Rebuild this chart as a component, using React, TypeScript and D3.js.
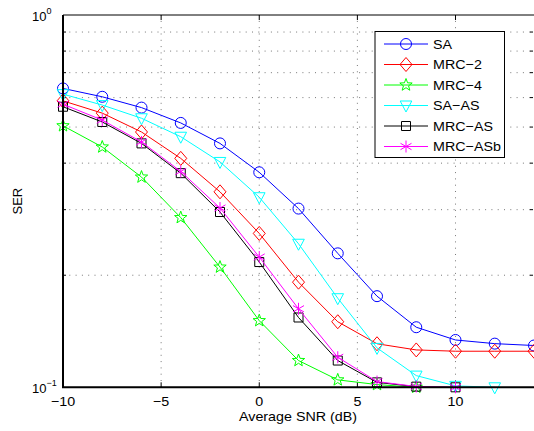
import React, { useEffect, useRef } from 'react';
import * as d3 from 'd3';

const snr = [-10, -8, -6, -4, -2, 0, 2, 4, 6, 8, 10, 12, 14];

const serSA = [0.635, 0.603, 0.564, 0.513, 0.452, 0.378, 0.302, 0.229, 0.1757, 0.145, 0.134, 0.131, 0.1295];
const serMRC2 = [0.588, 0.545, 0.485, 0.412, 0.335, 0.259, 0.1916, 0.15, 0.1309, 0.126, 0.125, 0.125, 0.125];
const serMRC4 = [0.504, 0.442, 0.367, 0.2856, 0.2103, 0.151, 0.118, 0.1047, 0.1017, 0.1];
const serSAAS = [0.613, 0.573, 0.528, 0.471, 0.403, 0.324, 0.243, 0.1735, 0.1276, 0.1075, 0.1009, 0.1];
const serMRCAS = [0.567, 0.516, 0.452, 0.376, 0.2957, 0.217, 0.154, 0.118, 0.1031, 0.1004, 0.1];
const serMRCASb = [0.576, 0.522, 0.456, 0.38, 0.303, 0.2238, 0.1625, 0.1204, 0.1036, 0.1005, 0.1];

const seriesNames = ['SA', 'MRC\u22122', 'MRC\u22124', 'SA\u2212AS', 'MRC\u2212AS', 'MRC\u2212ASb'];
const seriesColors = ['#0000ff', '#ff0000', '#00ff00', '#00ffff', '#000000', '#ff00ff'];
const seriesMarkers = ['circle', 'diamond', 'star', 'triangle', 'square', 'asterisk'];
const seriesValues = [serSA, serMRC2, serMRC4, serSAAS, serMRCAS, serMRCASb];

const xTicks = [-10, -5, 0, 5, 10];
const yGrid = [0.2, 0.3, 0.4, 0.5, 0.6, 0.7, 0.8, 0.9];

function markerPath(kind: string): string {
  if (kind === 'circle') {
    return 'M5.5,0A5.5,5.5 0 1,1 -5.5,0A5.5,5.5 0 1,1 5.5,0Z';
  }
  if (kind === 'diamond') return 'M0,-7L6,0L0,7L-6,0Z';
  if (kind === 'square') return 'M-4.5,-4.5L4.5,-4.5L4.5,4.5L-4.5,4.5Z';
  if (kind === 'triangle') return 'M-5.8,-4.5L5.8,-4.5L0,6.5Z';
  if (kind === 'asterisk') return 'M0,-6L0,6M-5.5,-3.2L5.5,3.2M-5.5,3.2L5.5,-3.2';
  // 5-point star
  let p = '';
  for (let i = 0; i < 10; i++) {
    const r = i % 2 === 0 ? 6.5 : 2.7;
    const a = -Math.PI / 2 + (i * Math.PI) / 5;
    p += (i === 0 ? 'M' : 'L') + (r * Math.cos(a)).toFixed(2) + ',' + (r * Math.sin(a)).toFixed(2);
  }
  return p + 'Z';
}

const App = () => {
  const chartRef = useRef<SVGSVGElement | null>(null);

  useEffect(() => {
    const width = 534;
    const height = 431;
    const margin = { top: 15, right: 0, bottom: 44, left: 63 };

    const svg = d3.select(chartRef.current);
    svg.selectAll('*').remove();

    const x = d3.scaleLinear().domain([-10, 14]).range([margin.left, width - margin.right]);
    const y = d3.scaleLog().domain([0.1, 1]).range([height - margin.bottom + 0.3, margin.top]);

    const x0 = margin.left;
    const x1 = width - margin.right - 1;
    const y0 = y(0.1);
    const y1 = y(1);
    const font = 'Liberation Sans, Arial, Helvetica, sans-serif';

    // text a bit wider than tall, like the source figure
    const label = (px: number, py: number, s: string, anchor: string) =>
      svg.append('text')
        .attr('transform', `translate(${px},${py}) scale(1.1,1)`)
        .attr('text-anchor', anchor)
        .attr('font-family', font)
        .attr('font-size', 13)
        .text(s);

    svg.append('rect').attr('x', 0).attr('y', 0).attr('width', width).attr('height', height).attr('fill', '#fff');

    // grid
    const grid = svg.append('g').attr('stroke', '#555').attr('stroke-width', 0.8).attr('stroke-dasharray', '1,5.3');
    xTicks.slice(1).forEach((t) => {
      grid.append('line').attr('x1', x(t)).attr('x2', x(t)).attr('y1', y0).attr('y2', y1);
    });
    yGrid.forEach((t) => {
      grid.append('line').attr('x1', x0).attr('x2', x1).attr('y1', y(t)).attr('y2', y(t));
    });

    // ticks (inward)
    const ticks = svg.append('g').attr('stroke', '#000').attr('stroke-width', 1);
    xTicks.forEach((t) => {
      ticks.append('line').attr('x1', x(t)).attr('x2', x(t)).attr('y1', y0).attr('y2', y0 - 5);
      ticks.append('line').attr('x1', x(t)).attr('x2', x(t)).attr('y1', y1).attr('y2', y1 + 5);
    });
    yGrid.forEach((t) => {
      ticks.append('line').attr('x1', x0).attr('x2', x0 + 3).attr('y1', y(t)).attr('y2', y(t));
      ticks.append('line').attr('x1', x1).attr('x2', x1 - 3).attr('y1', y(t)).attr('y2', y(t));
    });

    // series
    const line = d3.line<number>().x((d, i) => x(snr[i])).y((d) => y(d));
    seriesValues.forEach((vals, k) => {
      const g = svg.append('g');
      g.append('path')
        .attr('d', line(vals) as string)
        .attr('fill', 'none')
        .attr('stroke', seriesColors[k])
        .attr('stroke-width', 1);
      g.selectAll('.m')
        .data(vals)
        .enter()
        .append('path')
        .attr('transform', (d, i) => `translate(${x(snr[i])},${y(d)})`)
        .attr('d', markerPath(seriesMarkers[k]))
        .attr('fill', 'none')
        .attr('stroke', seriesColors[k])
        .attr('stroke-width', 1);
    });

    // axes box
    svg.append('path')
      .attr('d', `M${x0},${y1}L${x0},${y0}L${x1 + 1},${y0}`)
      .attr('fill', 'none')
      .attr('stroke', '#000')
      .attr('stroke-width', 2);
    svg.append('line').attr('x1', x0).attr('x2', x1 + 1).attr('y1', y1).attr('y2', y1).attr('stroke', '#000').attr('stroke-width', 1);

    // x tick labels
    xTicks.forEach((t) => {
      label(x(t), y0 + 19, t < 0 ? '\u2212' + Math.abs(t) : String(t), 'middle');
    });

    // y tick labels
    const yl = [
      { v: 1, sup: '0' },
      { v: 0.1, sup: '\u22121' },
    ];
    yl.forEach((d) => {
      const t = svg.append('text')
        .attr('x', 32)
        .attr('y', y(d.v) + 6)
        .attr('font-family', font)
        .attr('font-size', 13);
      t.append('tspan').text('10');
      t.append('tspan').attr('dy', -7).attr('font-size', 9).text(d.sup);
    });

    label((x0 + x1) / 2, 421, 'Average SNR (dB)', 'middle');

    svg.append('text')
      .attr('transform', `translate(22,${(y0 + y1) / 2}) rotate(-90)`)
      .attr('text-anchor', 'middle')
      .attr('font-family', font)
      .attr('font-size', 13)
      .text('SER');

    // legend
    const lg = svg.append('g');
    lg.append('rect')
      .attr('x', 375)
      .attr('y', 31.5)
      .attr('width', 129.5)
      .attr('height', 126)
      .attr('fill', '#fff')
      .attr('stroke', '#000')
      .attr('stroke-width', 1);
    seriesNames.forEach((name, k) => {
      const yy = 44 + k * 20.5;
      lg.append('line').attr('x1', 384).attr('x2', 428).attr('y1', yy).attr('y2', yy).attr('stroke', seriesColors[k]);
      lg.append('path')
        .attr('transform', `translate(406,${yy})`)
        .attr('d', markerPath(seriesMarkers[k]))
        .attr('fill', 'none')
        .attr('stroke', seriesColors[k]);
      label(433, yy + 4.5, name, 'start');
    });
  }, []);

  return (
    <svg
      ref={chartRef}
      width={534}
      height={431}
      style={{ position: 'absolute', left: 0, top: 0 }}
    />
  );
};

export default App;
